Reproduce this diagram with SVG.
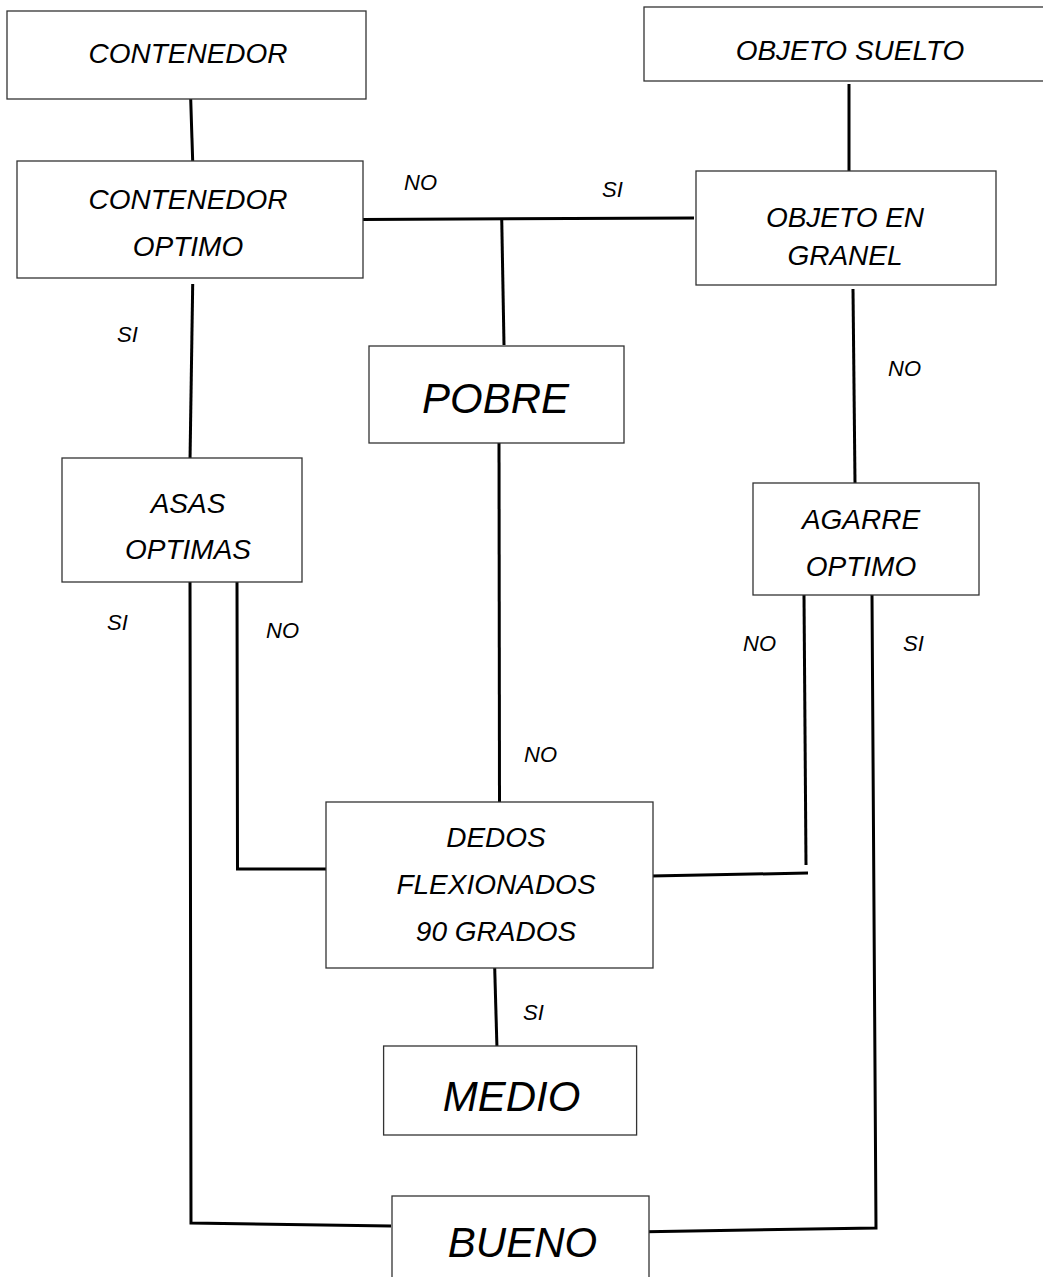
<svg xmlns="http://www.w3.org/2000/svg" width="1043" height="1277" viewBox="0 0 1043 1277">
<style>
.box{fill:#fff;stroke:#333;stroke-width:1.3}
.t{font-family:"Liberation Sans",Arial,sans-serif;font-style:italic;font-size:28px;fill:#000;text-anchor:middle}
.big{font-size:42px}
.lbl{font-family:"Liberation Sans",Arial,sans-serif;font-style:italic;font-size:22px;fill:#000}
.c{fill:none;stroke:#000;stroke-width:3;stroke-linejoin:miter}
</style>
<rect width="1043" height="1277" fill="#fff"/>
<g id="connectors">
<path class="c" d="M190.7,99 L192.7,162"/>
<path class="c" d="M362,219.5 L694,218"/>
<path class="c" d="M501.7,218 L504,345"/>
<path class="c" d="M849,84 L849,173"/>
<path class="c" d="M853,289 L855,483"/>
<path class="c" d="M192.7,284 L190,461"/>
<path class="c" d="M499,439 L499.5,802"/>
<path class="c" d="M190,579 L191,1223 L391,1226"/>
<path class="c" d="M237,582 L237.5,869 L328,869"/>
<path class="c" d="M804,595 L806,865"/>
<path class="c" d="M651,876 L808,873"/>
<path class="c" d="M872,595 L876,1228 L646.6,1231.7"/>
<path class="c" d="M494.7,968 L497,1049"/>
</g>
<g id="labels">
<text class="lbl" x="404" y="190">NO</text>
<text class="lbl" x="602" y="197">SI</text>
<text class="lbl" x="117" y="342">SI</text>
<text class="lbl" x="888" y="376">NO</text>
<text class="lbl" x="107" y="630">SI</text>
<text class="lbl" x="266" y="638">NO</text>
<text class="lbl" x="743" y="651">NO</text>
<text class="lbl" x="903" y="651">SI</text>
<text class="lbl" x="524" y="762">NO</text>
<text class="lbl" x="523" y="1020">SI</text>
</g>
<g id="contenedor">
<rect class="box" x="7" y="11" width="359" height="88"/>
<text class="t" x="188" y="63">CONTENEDOR</text>
</g>
<g id="contenedor-optimo">
<rect class="box" x="17" y="161" width="346" height="117"/>
<text class="t" x="188" y="209">CONTENEDOR</text>
<text class="t" x="188" y="256">OPTIMO</text>
</g>
<g id="objeto-suelto">
<rect class="box" x="644" y="7" width="405" height="74"/>
<text class="t" x="850" y="60">OBJETO SUELTO</text>
</g>
<g id="objeto-granel">
<rect class="box" x="696" y="171" width="300" height="114"/>
<text class="t" x="845" y="227">OBJETO EN</text>
<text class="t" x="845" y="265">GRANEL</text>
</g>
<g id="pobre">
<rect class="box" x="369" y="346" width="255" height="97"/>
<text class="t big" x="495.5" y="413">POBRE</text>
</g>
<g id="asas-optimas">
<rect class="box" x="62" y="458" width="240" height="124"/>
<text class="t" x="188" y="513">ASAS</text>
<text class="t" x="188" y="559">OPTIMAS</text>
</g>
<g id="agarre-optimo">
<rect class="box" x="753" y="483" width="226" height="112"/>
<text class="t" x="861" y="529">AGARRE</text>
<text class="t" x="861" y="576">OPTIMO</text>
</g>
<g id="dedos">
<rect class="box" x="326" y="802" width="327" height="166"/>
<text class="t" x="496" y="847">DEDOS</text>
<text class="t" x="496" y="894">FLEXIONADOS</text>
<text class="t" x="496" y="941">90 GRADOS</text>
</g>
<g id="medio">
<rect class="box" x="383.6" y="1046" width="253" height="89"/>
<text class="t big" x="511.5" y="1111">MEDIO</text>
</g>
<g id="bueno">
<rect class="box" x="392" y="1196" width="257" height="100"/>
<text class="t big" x="522.5" y="1257">BUENO</text>
</g>
</svg>
